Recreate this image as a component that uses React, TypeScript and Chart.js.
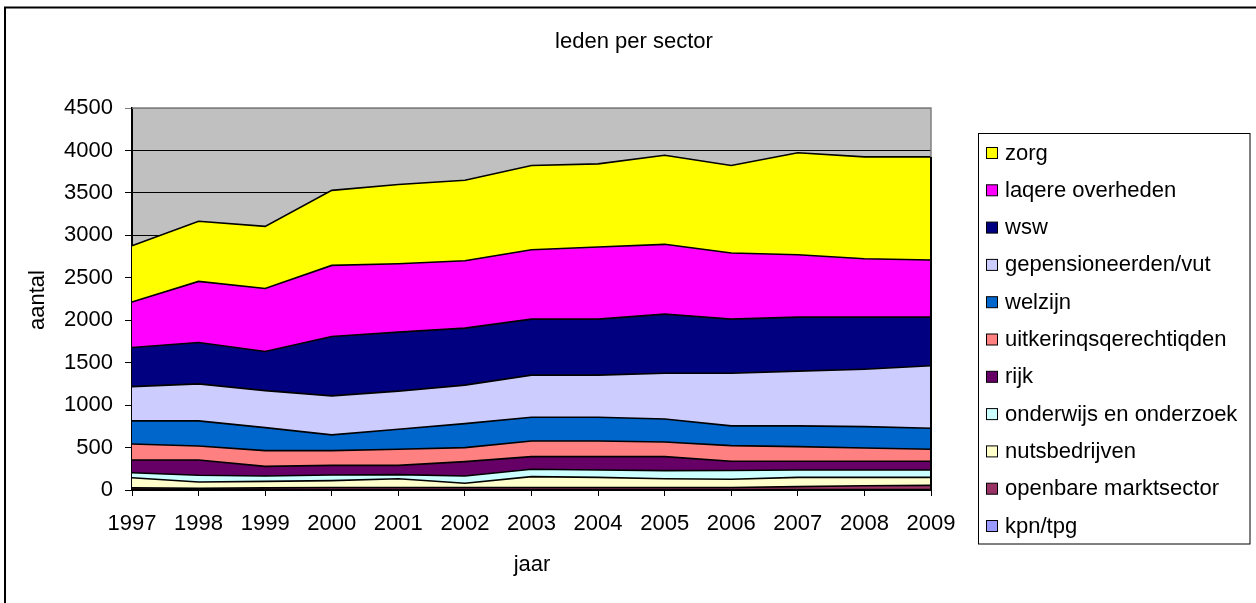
import React, { useEffect, useRef } from "react";
import { Chart, registerables } from "chart.js";

Chart.register(...registerables);

const years = ["1997", "1998", "1999", "2000", "2001", "2002", "2003", "2004", "2005", "2006", "2007", "2008", "2009"];

const kpnTpg = [5, 5, 5, 5, 5, 5, 5, 5, 5, 5, 5, 5, 5];
const openbareMarktsector = [20, 15, 20, 25, 25, 25, 25, 25, 25, 25, 35, 45, 50];
const nutsbedrijven = [120, 75, 77, 80, 103, 49, 127, 119, 103, 96, 109, 99, 94];
const onderwijsOnderzoek = [58, 78, 63, 67, 48, 86, 87, 87, 95, 103, 87, 87, 87];
const rijk = [151, 181, 113, 113, 109, 169, 149, 157, 165, 109, 102, 102, 102];
const uitkeringsgerechtigden = [187, 165, 186, 174, 190, 165, 185, 185, 173, 185, 173, 157, 142];
const welzijn = [273, 295, 271, 185, 236, 283, 279, 279, 271, 232, 244, 252, 247];
const gepensioneerden = [404, 436, 436, 460, 449, 453, 496, 496, 539, 621, 645, 676, 736];
const wsw = [461, 488, 461, 699, 695, 672, 660, 660, 696, 637, 637, 614, 574];
const lagereOverheden = [535, 719, 742, 838, 806, 794, 818, 850, 822, 779, 735, 688, 672];
const zorg = [664, 708, 732, 884, 932, 947, 991, 979, 1049, 1030, 1200, 1199, 1215];

const yTicks = [0, 500, 1000, 1500, 2000, 2500, 3000, 3500, 4000, 4500];

const seriesNames = [
  "kpn/tpg",
  "openbare marktsector",
  "nutsbedrijven",
  "onderwijs en onderzoek",
  "rijk",
  "uitkerinqsqerechtiqden",
  "welzijn",
  "gepensioneerden/vut",
  "wsw",
  "laqere overheden",
  "zorg",
];
const seriesData = [
  kpnTpg,
  openbareMarktsector,
  nutsbedrijven,
  onderwijsOnderzoek,
  rijk,
  uitkeringsgerechtigden,
  welzijn,
  gepensioneerden,
  wsw,
  lagereOverheden,
  zorg,
];
const seriesColors = [
  "#9999FF",
  "#993366",
  "#FFFFCC",
  "#CCFFFF",
  "#660066",
  "#FF8080",
  "#0066CC",
  "#CCCCFF",
  "#000080",
  "#FF00FF",
  "#FFFF00",
];

const FONT = "'Liberation Sans', Arial, sans-serif";
const FS = 22;

const decorPlugin = {
  id: "decor",
  beforeDraw(chart: any) {
    const { ctx, chartArea } = chart;
    ctx.save();
    ctx.fillStyle = "#ffffff";
    ctx.fillRect(0, 0, chart.width, chart.height);
    ctx.fillStyle = "#C0C0C0";
    ctx.fillRect(chartArea.left, chartArea.top, chartArea.right - chartArea.left, chartArea.bottom - chartArea.top);
    ctx.restore();
  },
  afterDatasetsDraw(chart: any) {
    const { ctx, chartArea } = chart;
    const yScale = chart.scales.y;
    const lastIdx = years.length - 1;
    let total = 0;
    seriesData.forEach((s) => (total += s[lastIdx]));
    const yTop = yScale.getPixelForValue(total);
    ctx.save();
    ctx.strokeStyle = "#808080";
    ctx.lineWidth = 1.5;
    ctx.beginPath();
    ctx.moveTo(chartArea.left, chartArea.top);
    ctx.lineTo(chartArea.right, chartArea.top);
    ctx.lineTo(chartArea.right, yTop);
    ctx.stroke();
    ctx.strokeStyle = "#000000";
    ctx.lineWidth = 2;
    ctx.beginPath();
    ctx.moveTo(chartArea.right, yTop);
    ctx.lineTo(chartArea.right, chartArea.bottom);
    ctx.stroke();
    ctx.restore();
  },
  afterDraw(chart: any) {
    const { ctx } = chart;
    ctx.save();
    // outer border
    ctx.strokeStyle = "#000000";
    ctx.lineWidth = 2;
    ctx.strokeRect(5, 7.5, chart.width + 20, chart.height + 20);

    // title
    ctx.fillStyle = "#000000";
    ctx.font = `${FS}px ${FONT}`;
    ctx.textAlign = "center";
    ctx.textBaseline = "alphabetic";
    ctx.fillText("leden per sector", 634, 48);

    // x axis title
    ctx.fillText("jaar", 532, 571);

    // y axis title
    ctx.save();
    ctx.translate(44, 300);
    ctx.rotate(-Math.PI / 2);
    ctx.fillText("aantal", 0, 0);
    ctx.restore();

    // legend
    const lx = 978.5;
    const ly = 133.5;
    const lw = 1250 - 978.5;
    const lh = 544 - 133.5;
    ctx.fillStyle = "#ffffff";
    ctx.fillRect(lx, ly, lw, lh);
    ctx.strokeStyle = "#000000";
    ctx.lineWidth = 1;
    ctx.strokeRect(lx, ly, lw, lh);
    const n = seriesNames.length;
    for (let i = 0; i < n; i++) {
      const idx = n - 1 - i;
      const cy = 153.5 + i * 37.3;
      ctx.fillStyle = seriesColors[idx];
      ctx.fillRect(986.5, cy - 6, 11, 11);
      ctx.strokeStyle = "#000000";
      ctx.lineWidth = 1;
      ctx.strokeRect(986.5, cy - 6, 11, 11);
      ctx.fillStyle = "#000000";
      ctx.font = `${FS}px ${FONT}`;
      ctx.textAlign = "left";
      ctx.textBaseline = "middle";
      ctx.fillText(seriesNames[idx], 1005, cy);
    }
    ctx.restore();
  },
};

export default function App() {
  const canvasRef = useRef<HTMLCanvasElement | null>(null);

  useEffect(() => {
    document.body.style.margin = "0";
    const canvas = canvasRef.current;
    if (!canvas) return;
    const chart = new Chart(canvas, {
      type: "line",
      data: {
        labels: years,
        datasets: seriesData.map((d, i) => ({
          label: seriesNames[i],
          data: d,
          backgroundColor: seriesColors[i],
          borderColor: "#000000",
          borderWidth: 1.6,
          pointRadius: 0,
          tension: 0,
          fill: i === 0 ? "origin" : "-1",
        })),
      },
      options: {
        responsive: false,
        animation: false,
        devicePixelRatio: 1,
        layout: { padding: { left: 0, top: 108, right: 325, bottom: 0 } },
        plugins: {
          legend: { display: false },
          title: { display: false },
          tooltip: { enabled: false },
        },
        scales: {
          x: {
            type: "category",
            offset: false,
            grid: {
              drawOnChartArea: false,
              drawTicks: true,
              tickLength: 6,
              color: "#000000",
            },
            border: { color: "#000000", width: 2 },
            ticks: {
              color: "#000000",
              font: { family: FONT, size: FS },
              padding: 15,
              maxRotation: 0,
              autoSkip: false,
            },
            afterFit: (s: any) => {
              s.height = 113;
            },
          },
          y: {
            stacked: true,
            min: 0,
            max: 4500,
            afterBuildTicks: (s: any) => {
              s.ticks = yTicks.map((v) => ({ value: v }));
            },
            grid: {
              color: (c: any) => (c.tick && c.tick.value === 4500 ? "#808080" : "#000000"),
              lineWidth: 1,
              tickLength: 7,
              drawTicks: true,
            },
            border: { color: "#000000", width: 2 },
            ticks: {
              color: "#000000",
              font: { family: FONT, size: FS },
              padding: 12,
              callback: (v: any) => String(v),
            },
            afterFit: (s: any) => {
              s.width = 132;
            },
          },
        },
      },
      plugins: [decorPlugin],
    });
    return () => chart.destroy();
  }, []);

  return (
    <div style={{ width: 1256, height: 603 }}>
      <canvas ref={canvasRef} width={1256} height={603} style={{ display: "block" }} />
    </div>
  );
}
